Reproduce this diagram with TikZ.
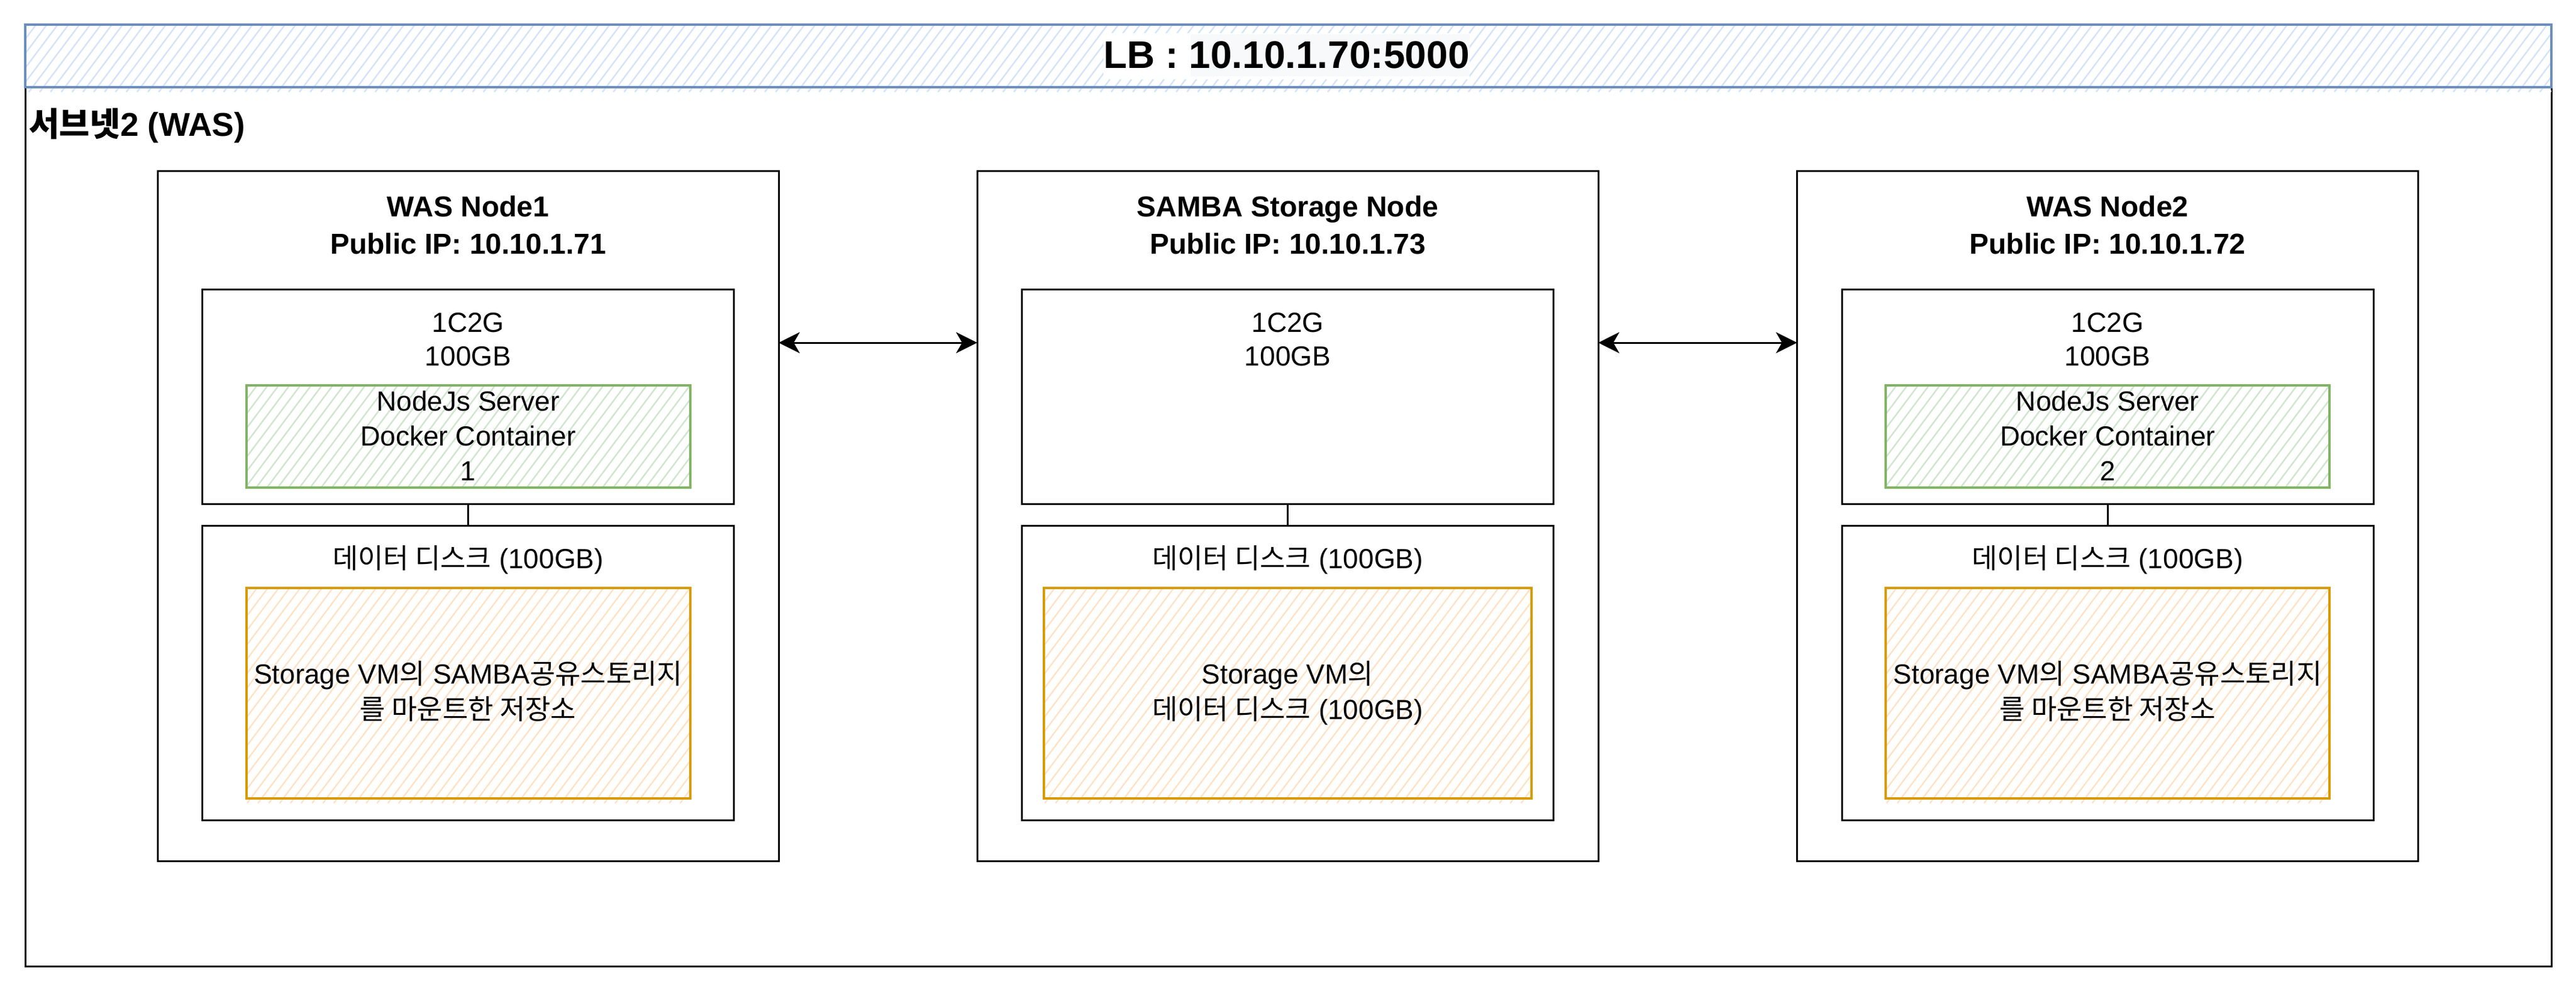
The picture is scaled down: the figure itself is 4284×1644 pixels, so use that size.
\documentclass[tikz,border=0pt]{standalone}
\usepackage{fontspec}
\setmainfont{Liberation Sans}
\newfontfamily\kr{Noto Sans CJK KR}[Scale=1.0]
\usetikzlibrary{arrows.meta}
\definecolor{bstroke}{HTML}{6C8EBF}
\definecolor{bhatch}{HTML}{D2E3FA}
\definecolor{gstroke}{HTML}{82B366}
\definecolor{ghatch}{HTML}{CFE5CD}
\definecolor{ostroke}{HTML}{D79B00}
\definecolor{ohatch}{HTML}{FFE2C4}
\definecolor{lbgray}{HTML}{F8F9FA}
\newcommand\K[1]{{\kr #1}}
\tikzset{
  blk/.style={draw=black, line width=3pt, inner sep=0pt, outer sep=0pt, anchor=center},
  gbox/.style={draw=gstroke, line width=4pt, inner sep=0pt, outer sep=0pt, anchor=center},
  obox/.style={draw=ostroke, line width=4pt, inner sep=0pt, outer sep=0pt, anchor=center},
  txt/.style={anchor=base, inner sep=0pt, font=\fontsize{46}{56}\selectfont},
  ttl/.style={anchor=base, inner sep=0pt, font=\fontsize{48}{58}\selectfont\bfseries},
  link/.style={line width=3pt, {Stealth[length=35pt,width=35pt,inset=10pt]}-{Stealth[length=35pt,width=35pt,inset=10pt]}},
  hline/.style={line width=2.4pt}
}
% hatch: x1 y1 x2 y2 colour
\newcommand\hatch[5]{%
  \begin{scope}
    \clip (#1,#2) rectangle (#3,#4);
    \pgfmathsetmacro\hatchH{(#4-#2)*0.75}
    \pgfmathsetmacro\hatchS{#1-\hatchH}
    \pgfmathsetmacro\hatchN{\hatchS+18}
    \pgfmathsetmacro\hatchE{#3}
    \pgfmathsetmacro\hatchD{#2-#4}
    \foreach \hx in {\hatchS,\hatchN,...,\hatchE}
      \draw[hline,#5] (\hx,#4) -- ++(\hatchH,\hatchD);
  \end{scope}}
% machine frame: prefix, centre x
\newcommand\machine[2]{%
  \node[blk, minimum width=1033pt, minimum height=1148pt] (#1) at (#2,858) {};
  \node[blk, minimum width=884pt, minimum height=357pt] (#1-vm) at (#2,659.5) {};
  \node[blk, minimum width=884pt, minimum height=490pt] (#1-disk) at (#2,1119) {};
  \draw[line width=3pt] (#1-vm.south) -- (#1-disk.north);
  \node[txt] (#1-cpu) at (#2,552) {1C2G};
  \node[txt] (#1-gb) at (#2,608) {100GB};
  \node[txt] (#1-dt) at (#2,945) {\K{데이터 디스크} (100GB)};
}
\begin{document}
\begin{tikzpicture}[x=1pt,y=-1pt]
\useasboundingbox (0,0) rectangle (4284,1644);
\fill[white] (0,0) rectangle (4284,1644);

% subnet frame
\node[blk, minimum width=4201pt, minimum height=1462pt] (subnet) at (2142.5,876) {};
\node[anchor=base west, inner sep=0pt, font=\fontsize{55}{66}\selectfont\bfseries] (subt) at (48,226) {\K{서브넷}2 (WAS)};

% LB bar
\hatch{42}{41}{4243}{153}{bhatch}
\node[draw=bstroke, line width=3.5pt, inner sep=0pt, outer sep=0pt, minimum width=4201pt, minimum height=104pt] (lb) at (2142.5,93) {};
\fill[white] (1835,55) rectangle (2444,132);
\fill[lbgray] (1980,57) rectangle (2444,127);
\node[anchor=base, inner sep=0pt, font=\fontsize{64}{77}\selectfont\bfseries] (lbt) at (2139.5,113) {LB : 10.10.1.70:5000};

% machines
\machine{n1}{778.5}
\machine{sm}{2141.5}
\machine{n2}{3505}

\node[ttl] (n1-t1) at (778.5,360) {WAS Node1};
\node[ttl] (n1-t2) at (778.5,422) {Public IP: 10.10.1.71};
\node[ttl] (sm-t1) at (2141.5,360) {SAMBA Storage Node};
\node[ttl] (sm-t2) at (2141.5,422) {Public IP: 10.10.1.73};
\node[ttl] (n2-t1) at (3505,360) {WAS Node2};
\node[ttl] (n2-t2) at (3505,422) {Public IP: 10.10.1.72};

% docker containers
\hatch{409.5}{641}{1147.5}{811}{ghatch}
\node[gbox, minimum width=738pt, minimum height=170pt] (n1-dock) at (778.5,726) {};
\node[txt] (n1-d1) at (778.5,683) {NodeJs Server};
\node[txt] (n1-d2) at (778.5,741) {Docker Container};
\node[txt] (n1-d3) at (778.5,799) {1};

\hatch{3136}{641}{3874}{811}{ghatch}
\node[gbox, minimum width=738pt, minimum height=170pt] (n2-dock) at (3505,726) {};
\node[txt] (n2-d1) at (3505,683) {NodeJs Server};
\node[txt] (n2-d2) at (3505,741) {Docker Container};
\node[txt] (n2-d3) at (3505,799) {2};

% storage areas
\hatch{409.5}{978}{1147.5}{1336}{ohatch}
\node[obox, minimum width=738pt, minimum height=350pt] (n1-st) at (778.5,1153) {};
\node[txt] (n1-s1) at (778.5,1137) {Storage VM\K{의} SAMBA\K{공유스토리지}};
\node[txt] (n1-s2) at (778.5,1196) {\K{를 마운트한 저장소}};

\hatch{1736}{978}{2547}{1336}{ohatch}
\node[obox, minimum width=811pt, minimum height=350pt] (sm-st) at (2141.5,1153) {};
\node[txt] (sm-s1) at (2141.5,1137) {Storage VM\K{의}};
\node[txt] (sm-s2) at (2141.5,1196) {\K{데이터 디스크} (100GB)};

\hatch{3136}{978}{3874}{1336}{ohatch}
\node[obox, minimum width=738pt, minimum height=350pt] (n2-st) at (3505,1153) {};
\node[txt] (n2-s1) at (3505,1137) {Storage VM\K{의} SAMBA\K{공유스토리지}};
\node[txt] (n2-s2) at (3505,1196) {\K{를 마운트한 저장소}};

% links
\coordinate (ay) at (0,570);
\draw[link] (n1.east |- ay) -- (sm.west |- ay);
\draw[link] (sm.east |- ay) -- (n2.west |- ay);
\end{tikzpicture}
\end{document}
